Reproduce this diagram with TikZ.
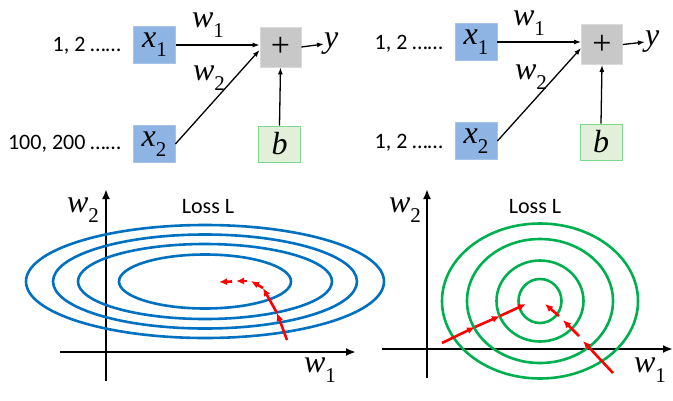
\documentclass[tikz,border=0pt]{standalone}
\usepackage{fontspec}
\setmainfont{Liberation Serif}
\newfontfamily\calib{Carlito}
\usetikzlibrary{arrows.meta}
\definecolor{xfill}{HTML}{8EB4E3}
\definecolor{xborder}{HTML}{A6C4E9}
\definecolor{pfill}{HTML}{C8C8C8}
\definecolor{pborder}{HTML}{DADADA}
\definecolor{bfill}{HTML}{E2F0D9}
\definecolor{bborder}{HTML}{7BD88F}
\definecolor{ellblue}{HTML}{0070C0}
\definecolor{ellgreen}{HTML}{00B050}
\newcommand{\mfnt}{\rmfamily\itshape\fontsize{32}{32}\selectfont}
\newcommand{\mv}[2]{#1\raisebox{-0.3em}{\rmfamily\upshape\fontsize{21}{21}\selectfont #2}}
\begin{document}
\begin{tikzpicture}[x=1pt,y=-1pt,
  xbox/.style={draw=xborder, fill=xfill, line width=0.8pt, minimum width=42pt, minimum height=37pt, inner sep=0pt, font=\mfnt},
  pbox/.style={draw=pborder, fill=pfill, line width=0.8pt, minimum width=41pt, minimum height=40pt, inner sep=0pt, font=\rmfamily\fontsize{34}{34}\selectfont},
  bbox/.style={draw=bborder, fill=bfill, line width=0.8pt, minimum width=42pt, minimum height=36pt, inner sep=0pt, font=\mfnt},
  mlabel/.style={inner sep=0pt, font=\mfnt},
  nlabel/.style={inner sep=0pt, anchor=east, font=\calib\fontsize{22}{22}\selectfont},
  losslabel/.style={inner sep=0pt, font=\calib\fontsize{22}{22}\selectfont},
  thin arrow/.style={line width=1.3pt, -{Latex[length=7pt,width=5pt]}},
  axis/.style={line width=2.6pt, -{Latex[length=10pt,width=8pt]}},
  contourB/.style={draw=ellblue, line width=2.6pt},
  contourG/.style={draw=ellgreen, line width=2.6pt},
  redarrow/.style={draw=red, line width=2.6pt, -{Latex[length=8pt,width=7pt]}}
]
\useasboundingbox (0,0) rectangle (673,400);

% ---------- top left ----------
\node[xbox] (x1L) at (154.5,44.5) {\mv{x}{1}};
\node[xbox] (x2L) at (154,144) {\mv{x}{2}};
\node[pbox] (pL) at (280.5,47) {+};
\node[bbox] (bL) at (279.5,144) {b};
\node[mlabel, anchor=west] (yL) at (324,44) {y};
\node[mlabel] (w1L) at (208,25) {\mv{w}{1}};
\node[mlabel] (w2L) at (209,78) {\mv{w}{2}};
\node[nlabel] (n1L) at (121,46) {1, 2 ……};
\node[nlabel] (n2L) at (121,144) {100, 200 ……};
\draw[thin arrow] (x1L.east |- 0,45) -- (pL.west |- 0,45);
\draw[thin arrow] (x2L.east) -- (pL.west |- 0,50);
\draw[thin arrow] (bL.north) -- (pL.south);
\draw[thin arrow] (pL.east) -- (yL.west);

% ---------- top right ----------
\node[xbox] (x1R) at (476,42) {\mv{x}{1}};
\node[xbox] (x2R) at (476,141) {\mv{x}{2}};
\node[pbox] (pR) at (602,44.5) {+};
\node[bbox] (bR) at (601,142) {b};
\node[mlabel, anchor=west] (yR) at (645,42) {y};
\node[mlabel] (w1R) at (529,23) {\mv{w}{1}};
\node[mlabel] (w2R) at (531,77) {\mv{w}{2}};
\node[nlabel] (n1R) at (443,44) {1, 2 ……};
\node[nlabel] (n2R) at (443,143) {1, 2 ……};
\draw[thin arrow] (x1R.east |- 0,42) -- (pR.west |- 0,42);
\draw[thin arrow] (x2R.east) -- (pR.west |- 0,48);
\draw[thin arrow] (bR.north) -- (pR.south);
\draw[thin arrow] (pR.east) -- (yR.west);

% ---------- bottom left ----------
\coordinate (vL0) at (106,381);
\coordinate (vL1) at (106,189);
\coordinate (hL0) at (60,352);
\coordinate (hL1) at (356,352);
\draw[axis] (vL0) -- (vL1);
\draw[axis] (hL0) -- (hL1);
\node[mlabel] (aw2L) at (83,210) {\mv{w}{2}};
\node[mlabel] (aw1L) at (320,370) {\mv{w}{1}};
\node[losslabel] (lossL) at (208,207) {Loss L};
\coordinate (cL) at (205,281.5);
\draw[contourB] (cL) ellipse [x radius=86pt, y radius=27pt];
\draw[contourB] (cL) ellipse [x radius=127pt, y radius=37.5pt];
\draw[contourB] (cL) ellipse [x radius=152pt, y radius=47pt];
\draw[contourB] (cL) ellipse [x radius=179pt, y radius=56.5pt];
\coordinate (r1) at (287,340);
\coordinate (r2) at (277,313);
\coordinate (r3) at (263,288);
\coordinate (r4) at (251,281);
\coordinate (r5) at (247,281);
\coordinate (r6) at (236,281);
\coordinate (r7) at (232,281.5);
\coordinate (r8) at (219,282);
\draw[redarrow] (r1) -- (r2);
\draw[redarrow] (r2) -- (r3);
\draw[redarrow] (r3) -- (r4);
\draw[redarrow] (r5) -- (r6);
\draw[redarrow] (r7) -- (r8);

% ---------- bottom right ----------
\coordinate (vR0) at (427,378);
\coordinate (vR1) at (427,189);
\coordinate (hR0) at (382,349);
\coordinate (hR1) at (673,349);
\draw[axis] (vR0) -- (vR1);
\draw[axis] (hR0) -- (hR1);
\node[mlabel] (aw2R) at (405,210) {\mv{w}{2}};
\node[mlabel] (aw1R) at (650,370) {\mv{w}{1}};
\node[losslabel] (lossR) at (535,207) {Loss L};
\coordinate (cR) at (540,301);
\draw[contourG] (cR) ellipse [x radius=21.5pt, y radius=22pt];
\draw[contourG] (cR) ellipse [x radius=43.5pt, y radius=40.5pt];
\draw[contourG] (cR) ellipse [x radius=73pt, y radius=62pt];
\draw[contourG] (cR) ellipse [x radius=98pt, y radius=77.5pt];
\coordinate (a1) at (442,343);
\coordinate (a2) at (475,327);
\coordinate (a3) at (500,316);
\coordinate (a4) at (526,304);
\draw[redarrow] (a1) -- (a2);
\draw[redarrow] (a2) -- (a3);
\draw[redarrow] (a3) -- (a4);
\coordinate (b1) at (613,373);
\coordinate (b2) at (583,341);
\coordinate (b3) at (579,336);
\coordinate (b4) at (563,320);
\coordinate (b5) at (559,316);
\coordinate (b6) at (545,304);
\draw[redarrow] (b1) -- (b2);
\draw[redarrow] (b3) -- (b4);
\draw[redarrow] (b5) -- (b6);
\end{tikzpicture}
\end{document}
